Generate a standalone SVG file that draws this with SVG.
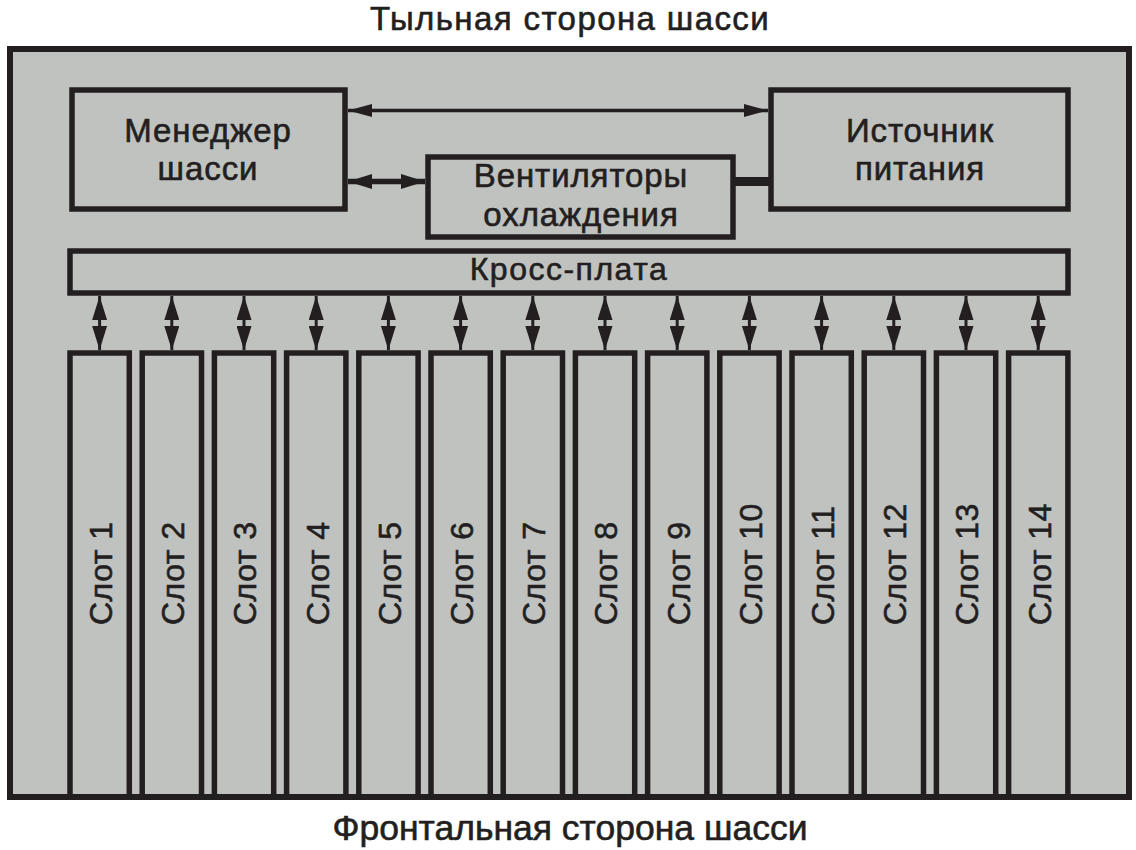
<svg xmlns="http://www.w3.org/2000/svg" width="1136" height="850" viewBox="0 0 1136 850">
<defs>
<style>
.box{fill:#c0c2c0;stroke:#231f20;stroke-width:5.5}
.t{font-family:"Liberation Sans",Arial,sans-serif;fill:#231f20;stroke:#231f20;stroke-width:0.6;text-anchor:middle}
.lbl{font-size:33px;letter-spacing:0.9px}
.st{font-family:"Liberation Sans",Arial,sans-serif;fill:#231f20;stroke:#231f20;stroke-width:0.6;font-size:32px;letter-spacing:0.5px;text-anchor:start}
.ln{stroke:#231f20;fill:none}
</style>
<marker id="ahA" markerUnits="userSpaceOnUse" markerWidth="24" markerHeight="14" refX="24" refY="6.5" orient="auto-start-reverse"><path d="M0,0 L24,6.5 L0,13 z" fill="#231f20"/></marker>
<marker id="ahB" markerUnits="userSpaceOnUse" markerWidth="24" markerHeight="15" refX="24" refY="7.5" orient="auto-start-reverse"><path d="M0,0 L24,7.5 L0,15 z" fill="#231f20"/></marker>
</defs>
<rect width="1136" height="850" fill="#ffffff"/>
<g id="frame">
<rect x="10" y="49" width="1119" height="748" fill="#c0c2c0" stroke="#231f20" stroke-width="6"/>
</g>
<text class="t" x="570" y="30" font-size="33" letter-spacing="1.4">Тыльная сторона шасси</text>
<text class="t" x="570" y="840" font-size="35.5">Фронтальная сторона шасси</text>
<g id="manager"><rect class="box" x="72" y="90" width="273" height="119"/>
<text class="t lbl" x="208" y="142">Менеджер</text><text class="t lbl" x="208" y="180">шасси</text></g>
<g id="power"><rect class="box" x="771" y="90" width="297" height="119"/>
<text class="t lbl" x="920" y="142">Источник</text><text class="t lbl" x="920" y="180">питания</text></g>
<g id="fans"><rect class="box" x="428" y="157" width="305" height="80"/>
<text class="t lbl" x="581" y="187">Вентиляторы</text><text class="t lbl" x="581" y="226">охлаждения</text></g>
<g id="backplane"><rect class="box" x="70" y="251" width="998" height="42"/>
<text class="t" x="569" y="280" font-size="32" letter-spacing="1.5">Кросс-плата</text></g>
<g id="slots">
<g id="slot1"><rect class="box" x="70" y="353" width="59.3" height="444"/><text class="st" transform="translate(112,625) rotate(-90)">Слот 1</text></g>
<g id="slot2"><rect class="box" x="142.2" y="353" width="59.3" height="444"/><text class="st" transform="translate(184.2,625) rotate(-90)">Слот 2</text></g>
<g id="slot3"><rect class="box" x="214.4" y="353" width="59.3" height="444"/><text class="st" transform="translate(256.4,625) rotate(-90)">Слот 3</text></g>
<g id="slot4"><rect class="box" x="286.6" y="353" width="59.3" height="444"/><text class="st" transform="translate(328.6,625) rotate(-90)">Слот 4</text></g>
<g id="slot5"><rect class="box" x="358.8" y="353" width="59.3" height="444"/><text class="st" transform="translate(400.8,625) rotate(-90)">Слот 5</text></g>
<g id="slot6"><rect class="box" x="431" y="353" width="59.3" height="444"/><text class="st" transform="translate(473,625) rotate(-90)">Слот 6</text></g>
<g id="slot7"><rect class="box" x="503.2" y="353" width="59.3" height="444"/><text class="st" transform="translate(545.2,625) rotate(-90)">Слот 7</text></g>
<g id="slot8"><rect class="box" x="575.4" y="353" width="59.3" height="444"/><text class="st" transform="translate(617.4,625) rotate(-90)">Слот 8</text></g>
<g id="slot9"><rect class="box" x="647.6" y="353" width="59.3" height="444"/><text class="st" transform="translate(689.6,625) rotate(-90)">Слот 9</text></g>
<g id="slot10"><rect class="box" x="719.8" y="353" width="59.3" height="444"/><text class="st" transform="translate(761.8,625) rotate(-90)">Слот 10</text></g>
<g id="slot11"><rect class="box" x="792" y="353" width="59.3" height="444"/><text class="st" transform="translate(834,625) rotate(-90)">Слот 11</text></g>
<g id="slot12"><rect class="box" x="864.2" y="353" width="59.3" height="444"/><text class="st" transform="translate(906.2,625) rotate(-90)">Слот 12</text></g>
<g id="slot13"><rect class="box" x="936.4" y="353" width="59.3" height="444"/><text class="st" transform="translate(978.4,625) rotate(-90)">Слот 13</text></g>
<g id="slot14"><rect class="box" x="1008.6" y="353" width="59.3" height="444"/><text class="st" transform="translate(1050.6,625) rotate(-90)">Слот 14</text></g>
</g>
<rect x="10" y="794" width="1119" height="6" fill="#231f20"/>
<g id="connectors">
<line class="ln" x1="348" y1="110.5" x2="768" y2="110.5" stroke-width="3.5" marker-start="url(#ahA)" marker-end="url(#ahA)"/>
<line class="ln" x1="348" y1="181.5" x2="425" y2="181.5" stroke-width="5.5" marker-start="url(#ahB)" marker-end="url(#ahB)"/>
<line class="ln" x1="733" y1="181.5" x2="771" y2="181.5" stroke-width="9"/>
<g stroke-width="3" class="ln">
<line x1="99.6" y1="296" x2="99.6" y2="350" marker-start="url(#ahB)" marker-end="url(#ahB)"/>
<line x1="171.8" y1="296" x2="171.8" y2="350" marker-start="url(#ahB)" marker-end="url(#ahB)"/>
<line x1="244" y1="296" x2="244" y2="350" marker-start="url(#ahB)" marker-end="url(#ahB)"/>
<line x1="316.2" y1="296" x2="316.2" y2="350" marker-start="url(#ahB)" marker-end="url(#ahB)"/>
<line x1="388.4" y1="296" x2="388.4" y2="350" marker-start="url(#ahB)" marker-end="url(#ahB)"/>
<line x1="460.6" y1="296" x2="460.6" y2="350" marker-start="url(#ahB)" marker-end="url(#ahB)"/>
<line x1="532.8" y1="296" x2="532.8" y2="350" marker-start="url(#ahB)" marker-end="url(#ahB)"/>
<line x1="605" y1="296" x2="605" y2="350" marker-start="url(#ahB)" marker-end="url(#ahB)"/>
<line x1="677.2" y1="296" x2="677.2" y2="350" marker-start="url(#ahB)" marker-end="url(#ahB)"/>
<line x1="749.4" y1="296" x2="749.4" y2="350" marker-start="url(#ahB)" marker-end="url(#ahB)"/>
<line x1="821.6" y1="296" x2="821.6" y2="350" marker-start="url(#ahB)" marker-end="url(#ahB)"/>
<line x1="893.8" y1="296" x2="893.8" y2="350" marker-start="url(#ahB)" marker-end="url(#ahB)"/>
<line x1="966" y1="296" x2="966" y2="350" marker-start="url(#ahB)" marker-end="url(#ahB)"/>
<line x1="1038.2" y1="296" x2="1038.2" y2="350" marker-start="url(#ahB)" marker-end="url(#ahB)"/>
</g>
</g>
</svg>
